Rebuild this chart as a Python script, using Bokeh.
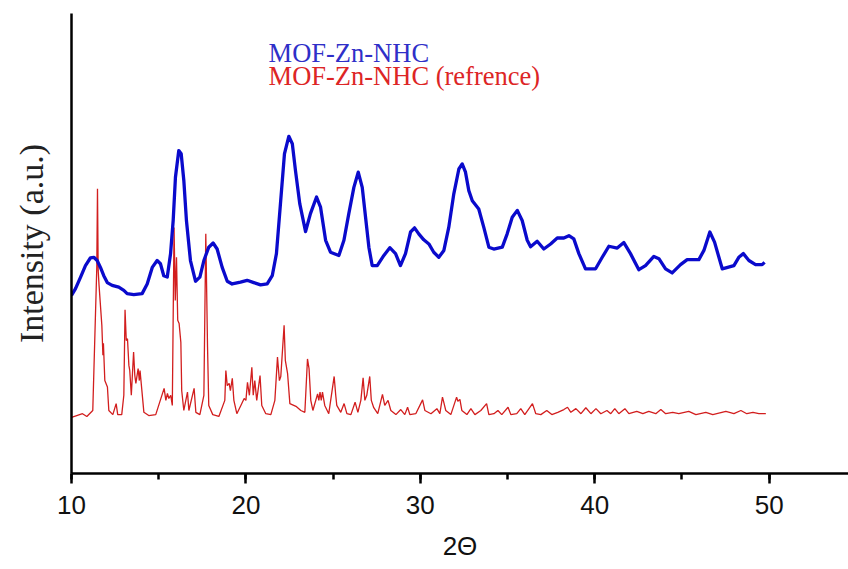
from bokeh.plotting import figure
from bokeh.models import Label, SingleIntervalTicker, FixedTicker, Range1d
from bokeh.embed import file_html
from bokeh.resources import INLINE

# ---- data ----
blue_two_theta = [10.00, 10.23, 10.52, 10.80, 11.09, 11.28, 11.47, 11.66, 11.85, 12.05,
                  12.33, 12.71, 13.00, 13.19, 13.57, 14.05, 14.34, 14.63, 14.91, 15.10,
                  15.29, 15.49, 15.68, 15.83, 15.96, 16.15, 16.29, 16.44, 16.59, 16.82,
                  17.11, 17.36, 17.59, 17.87, 18.12, 18.35, 18.64, 18.93, 19.21, 19.69,
                  20.07, 20.45, 20.84, 21.22, 21.51, 21.75, 21.98, 22.21, 22.46, 22.66,
                  22.84, 23.09, 23.42, 23.70, 24.05, 24.28, 24.57, 24.85, 25.33, 25.62,
                  25.90, 26.19, 26.44, 26.67, 26.86, 27.05, 27.24, 27.53, 27.91, 28.25,
                  28.58, 28.86, 29.15, 29.44, 29.67, 29.91, 30.20, 30.49, 30.77, 31.06,
                  31.35, 31.63, 31.92, 32.21, 32.40, 32.59, 32.78, 32.98, 33.35, 33.64,
                  33.93, 34.21, 34.70, 34.98, 35.27, 35.56, 35.84, 36.13, 36.32, 36.70,
                  37.08, 37.47, 37.85, 38.23, 38.52, 38.80, 39.09, 39.47, 40.05, 40.43,
                  40.81, 41.29, 41.67, 42.05, 42.53, 42.91, 43.39, 43.68, 44.06, 44.44,
                  44.92, 45.30, 45.97, 46.26, 46.60, 46.87, 47.31, 47.98, 48.26, 48.52,
                  48.84, 49.22, 49.60, 49.74]
blue_intensity = [38.7, 40.2, 42.7, 45.2, 46.9, 47.0, 46.3, 44.8, 43.0, 41.5,
                  40.9, 40.5, 39.8, 39.1, 38.9, 39.1, 41.2, 44.8, 46.3, 45.6,
                  43.0, 42.7, 47.8, 55.0, 64.4, 70.2, 69.5, 63.7, 55.0, 46.3,
                  41.8, 42.7, 46.3, 49.2, 50.1, 48.8, 44.8, 41.8, 41.2, 41.6,
                  42.0, 41.5, 41.0, 41.2, 43.0, 47.8, 58.6, 69.5, 73.3, 71.7,
                  65.9, 58.6, 52.6, 56.5, 60.1, 57.9, 50.7, 48.1, 47.4, 50.7,
                  56.5, 62.2, 65.5, 62.2, 55.7, 49.2, 45.2, 45.2, 47.4, 49.1,
                  47.8, 45.2, 47.8, 52.5, 53.4, 52.1, 50.8, 49.9, 48.1, 47.0,
                  48.5, 53.5, 60.8, 66.2, 67.3, 65.5, 61.5, 59.3, 57.5, 53.5,
                  49.2, 48.8, 49.2, 52.1, 55.7, 57.2, 55.0, 50.7, 49.3, 50.5,
                  48.8, 49.9, 51.2, 51.2, 51.7, 51.0, 47.8, 44.5, 44.5, 47.0,
                  49.4, 49.0, 50.2, 47.8, 44.3, 45.2, 47.2, 46.7, 44.5, 43.6,
                  45.4, 46.5, 46.5, 48.5, 52.5, 50.3, 44.5, 45.2, 47.0, 47.8,
                  46.3, 45.4, 45.4, 45.9]

red_two_theta = [10.00, 10.30, 10.63, 10.88, 11.22, 11.45, 11.49, 11.53, 11.58, 11.74,
                 11.80, 11.83, 11.91, 12.06, 12.14, 12.37, 12.56, 12.65, 12.88, 13.00,
                 13.07, 13.14, 13.21, 13.29, 13.34, 13.43, 13.56, 13.63, 13.69, 13.82,
                 13.89, 13.93, 14.07, 14.15, 14.43, 14.83, 15.31, 15.41, 15.50, 15.58,
                 15.69, 15.78, 15.88, 15.95, 16.02, 16.09, 16.17, 16.27, 16.32, 16.44,
                 16.65, 16.73, 17.03, 17.13, 17.36, 17.59, 17.70, 17.80, 17.87, 18.10,
                 18.45, 18.79, 18.85, 18.93, 19.04, 19.11, 19.22, 19.31, 19.48, 19.71,
                 19.90, 20.00, 20.09, 20.20, 20.34, 20.42, 20.51, 20.62, 20.81, 20.91,
                 21.14, 21.43, 21.66, 21.81, 21.92, 22.00, 22.19, 22.26, 22.39, 22.52,
                 22.87, 23.15, 23.38, 23.53, 23.62, 23.72, 23.84, 24.11, 24.18, 24.25,
                 24.32, 24.39, 24.52, 24.75, 25.06, 25.15, 25.21, 25.44, 25.63, 25.79,
                 26.02, 26.26, 26.42, 26.59, 26.72, 26.82, 26.93, 27.10, 27.19, 27.33,
                 27.56, 27.83, 27.96, 28.15, 28.31, 28.60, 28.88, 29.11, 29.27, 29.40,
                 29.74, 30.13, 30.26, 30.61, 30.95, 31.12, 31.27, 31.35, 31.46, 31.75,
                 32.08, 32.15, 32.27, 32.38, 32.67, 32.90, 33.13, 33.47, 33.80, 33.93,
                 34.22, 34.45, 34.67, 35.03, 35.19, 35.53, 35.76, 35.99, 36.43, 36.62,
                 36.91, 37.25, 37.54, 37.88, 38.23, 38.44, 38.63, 38.92, 39.21, 39.49,
                 39.78, 40.07, 40.35, 40.70, 40.92, 41.15, 41.38, 41.73, 41.96, 42.41,
                 42.76, 43.10, 43.50, 43.79, 44.07, 44.47, 44.82, 45.39, 45.80, 46.37,
                 46.77, 47.52, 47.98, 48.38, 48.72, 49.07, 49.41, 49.81]
red_intensity = [12.2, 12.6, 13.0, 12.4, 13.7, 44.8, 61.9, 44.1, 40.9, 32.2,
                 25.7, 28.3, 20.2, 18.8, 13.7, 12.8, 15.2, 12.8, 12.8, 17.0,
                 35.6, 28.9, 29.3, 23.5, 22.4, 17.0, 26.4, 21.3, 19.6, 22.8,
                 20.2, 22.4, 16.6, 13.3, 12.6, 12.8, 18.5, 15.9, 17.4, 16.3,
                 17.0, 14.8, 53.5, 37.6, 47.0, 33.3, 32.6, 28.5, 18.0, 13.7,
                 17.7, 13.7, 18.5, 13.3, 12.8, 17.0, 52.1, 27.5, 14.8, 12.8,
                 12.4, 15.9, 22.4, 19.1, 19.6, 18.0, 20.7, 15.9, 13.0, 14.8,
                 16.3, 15.9, 19.8, 17.0, 23.1, 17.0, 20.2, 15.9, 21.3, 14.8,
                 13.0, 12.8, 15.9, 25.3, 20.2, 21.1, 32.2, 24.6, 21.7, 15.2,
                 14.6, 13.7, 13.3, 24.9, 22.8, 15.9, 13.7, 17.3, 15.9, 17.7,
                 15.9, 17.7, 14.8, 13.0, 21.1, 17.0, 14.8, 13.3, 15.2, 13.0,
                 12.8, 15.5, 13.3, 15.9, 20.8, 15.9, 17.0, 21.1, 15.9, 14.3,
                 13.0, 17.2, 14.8, 15.9, 13.7, 12.8, 13.9, 12.8, 14.4, 12.8,
                 13.0, 16.0, 13.7, 13.0, 14.1, 13.0, 16.6, 15.4, 13.7, 12.8,
                 16.6, 15.7, 16.1, 13.7, 12.8, 14.1, 12.8, 13.7, 15.2, 12.8,
                 13.0, 13.7, 12.8, 14.4, 12.8, 13.0, 14.1, 12.8, 15.2, 13.0,
                 12.8, 13.7, 12.8, 13.3, 13.9, 14.4, 13.3, 14.1, 13.0, 14.3,
                 13.0, 14.1, 13.0, 13.7, 13.0, 14.1, 13.0, 14.1, 13.0, 13.5,
                 13.0, 13.5, 13.0, 13.9, 13.0, 13.3, 13.0, 13.5, 12.8, 13.3,
                 12.8, 13.5, 13.0, 13.7, 13.0, 13.3, 13.0, 13.0]

x_ticks = [10, 20, 30, 40, 50]
series_names = ["MOF-Zn-NHC", "MOF-Zn-NHC (refrence)"]
x_title = "2\u0398"
y_title = "Intensity (a.u.)"

BLUE = "#0A0ACC"
RED = "#D21E1E"

p = figure(width=848, height=568, output_backend="svg", toolbar_location=None,
           x_range=Range1d(10, 54.55), y_range=Range1d(0, 100),
           min_border_left=71, min_border_right=0, min_border_top=13, min_border_bottom=95)
p.outline_line_color = None
p.xgrid.visible = False
p.ygrid.visible = False
p.background_fill_color = "white"
p.border_fill_color = "white"

p.line(red_two_theta, red_intensity, line_color=RED, line_width=1.3)
p.line(blue_two_theta, blue_intensity, line_color=BLUE, line_width=3.3, line_join="round")

# x axis
p.xaxis.ticker = SingleIntervalTicker(interval=10, num_minor_ticks=2)
p.xaxis.axis_line_width = 2.5
p.xaxis.axis_line_color = "black"
p.xaxis.major_tick_line_width = 2.5
p.xaxis.minor_tick_line_width = 2.5
p.xaxis.major_tick_in = 0
p.xaxis.major_tick_out = 10
p.xaxis.minor_tick_in = 0
p.xaxis.minor_tick_out = 6
p.xaxis.major_label_text_font = "Liberation Sans"
p.xaxis.major_label_text_font_size = "26px"
p.xaxis.major_label_text_color = "#111111"
p.xaxis.major_label_standoff = 12
p.xaxis.axis_label = x_title
p.xaxis.axis_label_text_font = "Liberation Sans"
p.xaxis.axis_label_text_font_size = "26px"
p.xaxis.axis_label_text_font_style = "normal"
p.xaxis.axis_label_text_color = "#111111"
p.xaxis.axis_label_standoff = 14

# y axis (no ticks, no labels)
p.yaxis.ticker = FixedTicker(ticks=[])
p.yaxis.axis_line_width = 2.5
p.yaxis.axis_line_color = "black"
p.yaxis.major_tick_out = 0
p.yaxis.major_tick_in = 0
p.yaxis.minor_tick_out = 0
p.yaxis.minor_tick_in = 0
p.yaxis.major_label_standoff = 0
p.yaxis.axis_label = y_title
p.yaxis.axis_label_text_font = "Liberation Serif"
p.yaxis.axis_label_text_font_size = "34px"
p.yaxis.axis_label_text_font_style = "normal"
p.yaxis.axis_label_text_color = "#222222"
p.yaxis.axis_label_standoff = 22

# legend-like texts
p.add_layout(Label(x=21.30, y=91.5, text=series_names[0], text_font="Liberation Serif",
                   text_font_size="26.5px", text_color="#2F2FC8", text_baseline="alphabetic"))
p.add_layout(Label(x=21.30, y=86.4, text=series_names[1], text_font="Liberation Serif",
                   text_font_size="26.5px", text_color="#DD2525", text_baseline="alphabetic"))

open("out.html", "w").write(file_html(p, INLINE))
